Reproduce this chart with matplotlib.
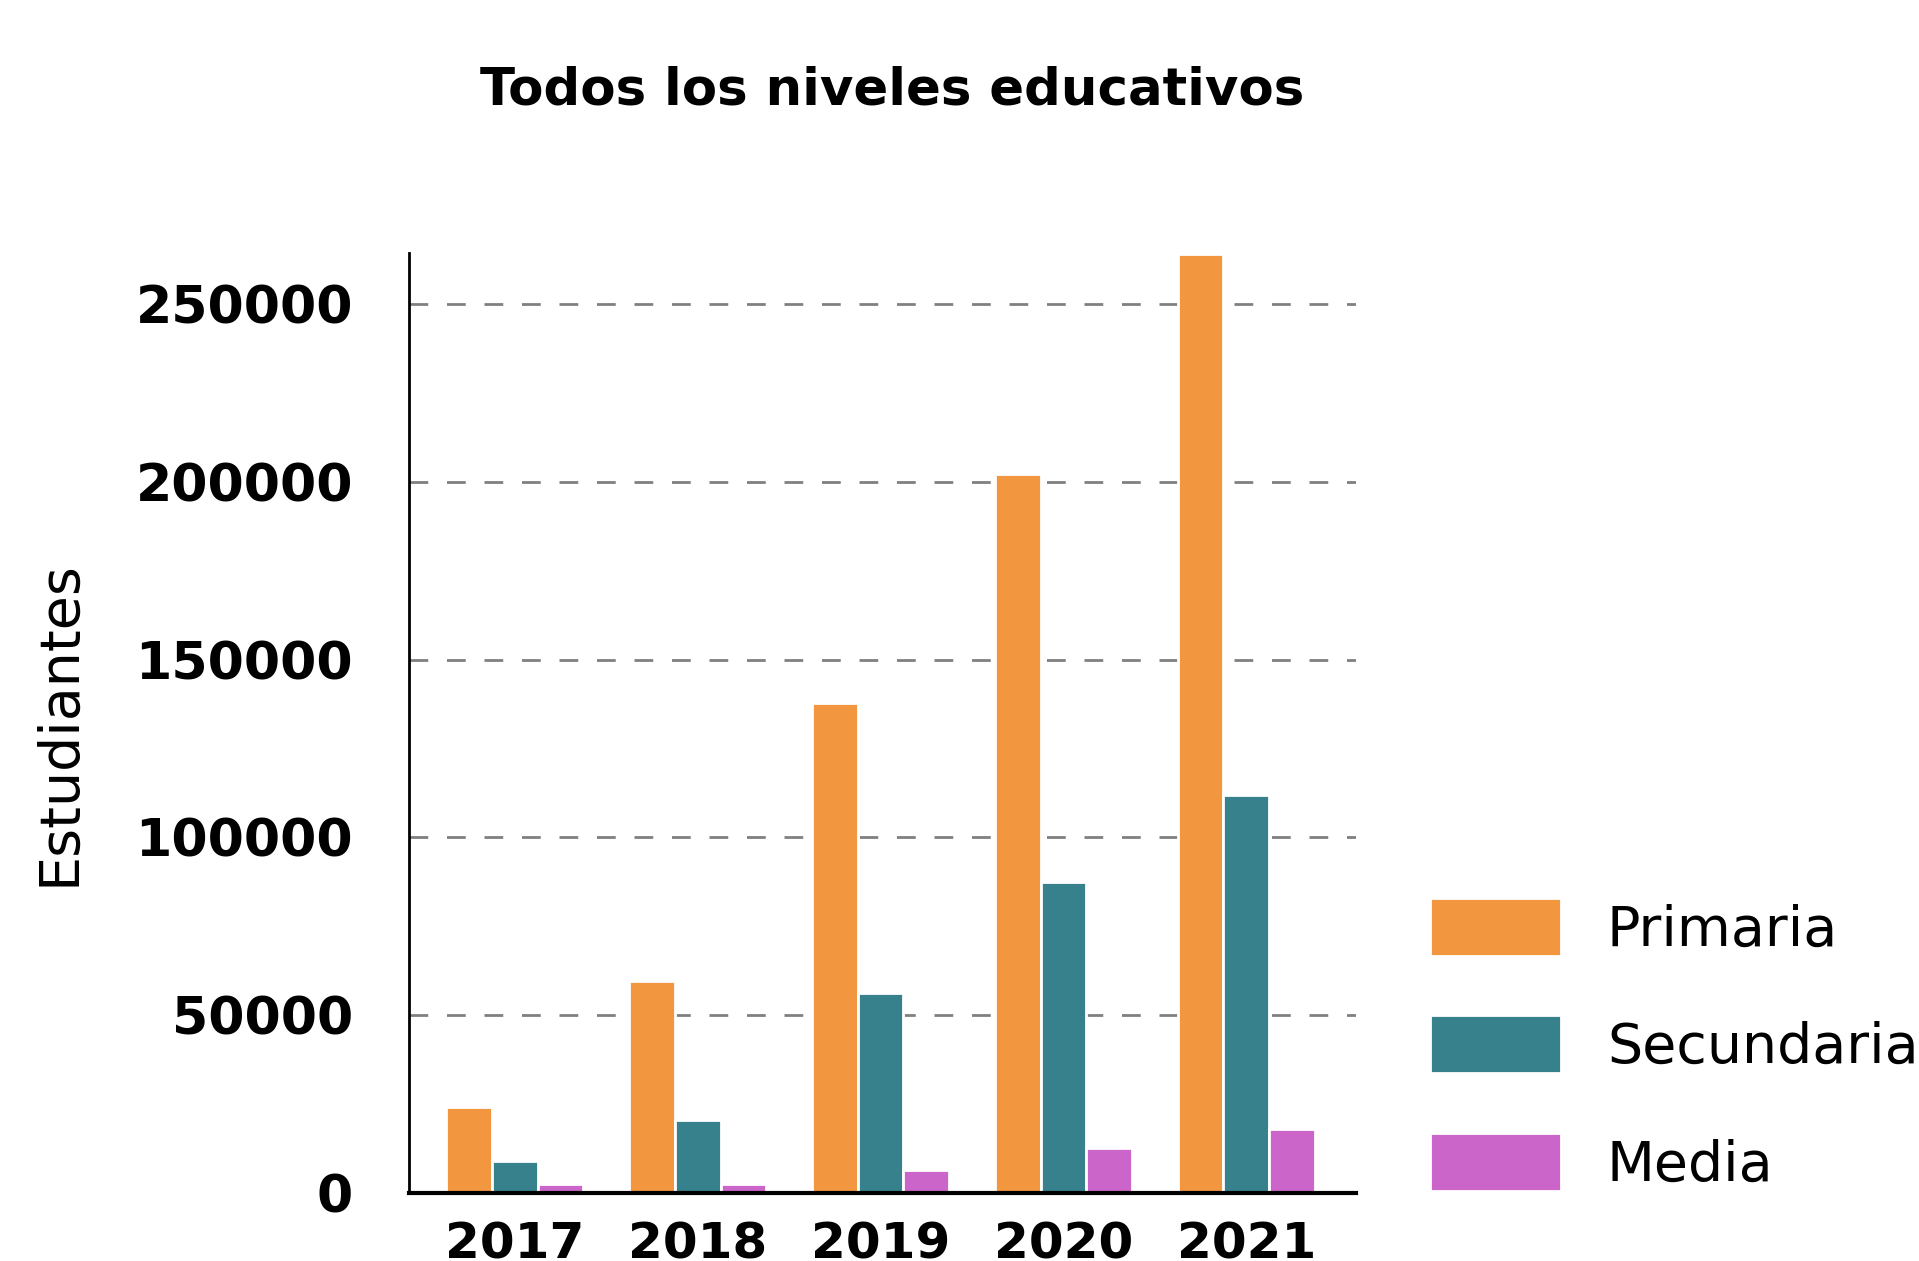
import numpy as np
import matplotlib
matplotlib.use("Agg")
import matplotlib.pyplot as plt

# datos
anios = ["2017", "2018", "2019", "2020", "2021"]
primaria = [24100, 59700, 137700, 202200, 264300]
secundaria = [8900, 20500, 56200, 87600, 112000]
media = [2500, 2500, 6400, 12600, 17900]
niveles = ["Primaria", "Secundaria", "Media"]
colores = ["#F39640", "#36818C", "#CB65C9"]

plt.rcParams["font.family"] = ["DejaVu Sans"]

fig = plt.figure(figsize=(19.19, 12.61), dpi=100)
ax = fig.add_axes([0.213, 0.054, 0.4936, 0.7455])

x = np.arange(len(anios))
w = 0.25
for i, (serie, nombre, c) in enumerate(zip([primaria, secundaria, media], niveles, colores)):
    ax.bar(x + (i - 1) * w, serie, width=w, color=c, edgecolor="white",
           linewidth=2, label=nombre, zorder=3)

ax.set_ylim(0, 264500)
ax.set_xlim(-0.58, 4.6)
ax.set_yticks([0, 50000, 100000, 150000, 200000, 250000])
ax.set_yticklabels(["0", "50000", "100000", "150000", "200000", "250000"],
                   fontsize=37.5, fontweight="bold")
ax.set_xticks(x)
ax.set_xticklabels(anios, fontsize=36, fontweight="bold")
ax.tick_params(axis="y", length=0, pad=40)
ax.tick_params(axis="x", length=0, pad=20)
ax.yaxis.grid(True, color="gray", linestyle=(0, (6.75, 6.75)), linewidth=2, zorder=0)
ax.set_axisbelow(True)

for s in ["top", "right"]:
    ax.spines[s].set_visible(False)
ax.spines["left"].set_linewidth(2)
ax.spines["bottom"].set_linewidth(3)
ax.spines["bottom"].set_zorder(5)

ax.set_ylabel("Estudiantes", fontsize=40)
ax.yaxis.set_label_coords(-0.34, 0.5)

fig.text(0.465, 0.928, "Todos los niveles educativos", fontsize=37,
         fontweight="bold", ha="center", va="center")

fig.legend(loc="lower left", bbox_to_anchor=(0.745, 0.054), frameon=False,
           fontsize=40, handlelength=2.36, handleheight=1.23, handletextpad=0.83,
           labelspacing=1.045, borderpad=0, borderaxespad=0)

fig.savefig("out.png", dpi=100)
